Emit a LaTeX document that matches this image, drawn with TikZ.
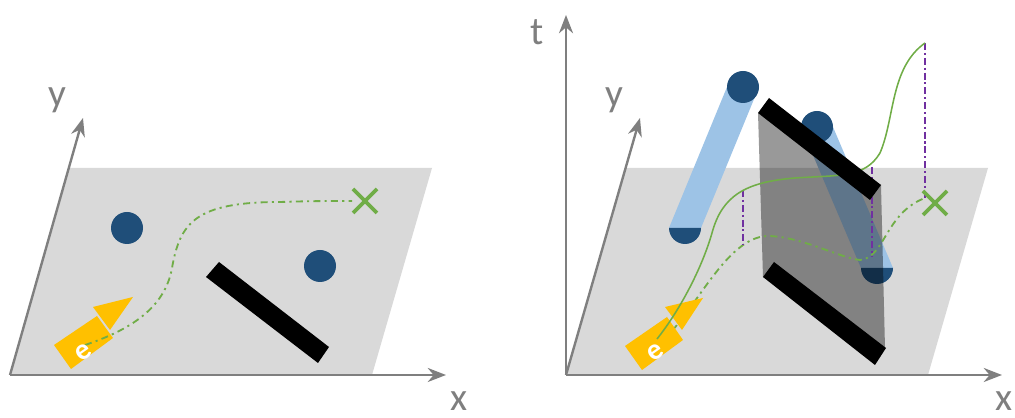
\documentclass[tikz,border=0pt]{standalone}
\usepackage{fontspec}
\setmainfont{Carlito}
\usetikzlibrary{arrows.meta}
\definecolor{planegray}{HTML}{D9D9D9}
\definecolor{axisgray}{HTML}{7F7F7F}
\definecolor{pathgreen}{HTML}{70AD47}
\definecolor{agentorange}{HTML}{FFC000}
\definecolor{obstblue}{HTML}{1F4E79}
\definecolor{trackblue}{HTML}{9DC3E6}
\definecolor{dropviolet}{HTML}{7030A0}
\tikzset{
  axisline/.style={draw=axisgray,line width=1.7pt,-{Stealth[length=13pt,width=10pt]}},
  axislabel/.style={text=axisgray,inner sep=0pt,font=\fontsize{28}{30}\selectfont},
  agentlabel/.style={text=white,inner sep=0pt,font=\fontsize{21}{22}\selectfont\bfseries},
  plannedpath/.style={draw=pathgreen,line width=1.3pt,dash pattern=on 5pt off 3pt on 1.5pt off 3pt},
  timedpath/.style={draw=pathgreen,line width=1.1pt},
  dropline/.style={draw=dropviolet,line width=1.2pt,dash pattern=on 5pt off 2pt on 1.5pt off 2pt},
  goalmark/.style={draw=pathgreen,line width=2.6pt},
}
\begin{document}
\begin{tikzpicture}[x=0.025cm,y=0.025cm]
  \useasboundingbox (0,0) rectangle (1015,418);
  % left panel
  \fill[planegray] (10,43) -- (70,250) -- (432,250) -- (372,43) -- cycle;
  \coordinate (oL) at (10,43);
  \coordinate (xL) at (446,43);
  \coordinate (yL) at (83,300);
  \draw[axisline] (oL) -- (xL);
  \draw[axisline] (oL) -- (yL);
  \node[axislabel] (ylabelL) at (57,318) {y};
  \node[axislabel] (xlabelL) at (459,17) {x};
  \fill[obstblue] (127,190) circle (16);
  \fill[obstblue] (320,152) circle (16);
  \fill[black] (219,156) -- (329,71) -- (318,55) -- (206,141) -- cycle;
  \fill[agentorange] (54,73) -- (97,102) -- (113,80) -- (71,49) -- cycle;
  \fill[agentorange] (93,111) -- (133,121) -- (110,88) -- cycle;
  \draw[plannedpath] (85,73) .. controls (130,88) and (165,110) .. (172,150)
    .. controls (180,195) and (195,216) .. (280,216) .. controls (310,217) and (330,217) .. (352,217);
  \node[agentlabel,rotate=35] (agentL) at (83,66) {e};
  \draw[goalmark] (353,205) -- (377,229) (353,229) -- (377,205);
  % right panel
  \fill[planegray] (566,43) -- (626,250) -- (988,250) -- (928,43) -- cycle;
  \coordinate (oR) at (566,43);
  \coordinate (xR) at (1002,43);
  \coordinate (yR) at (640,300);
  \coordinate (tR) at (566,403);
  \draw[axisline] (oR) -- (xR);
  \draw[axisline] (oR) -- (yR);
  \draw[axisline] (oR) -- (tR);
  \node[axislabel] (ylabelR) at (614,318) {y};
  \node[axislabel] (xlabelR) at (1004,17) {x};
  \node[axislabel] (tlabelR) at (537,386) {t};
  % moving obstacles
  \fill[trackblue] (669,190) -- (701,190) -- (759,331) -- (727,331) -- cycle;
  \fill[obstblue] (743,331) circle (16);
  \fill[obstblue] (669,190) arc[start angle=180,end angle=360,radius=16] -- cycle;
  \fill[trackblue] (861,150) -- (893,150) -- (833,291) -- (801,291) -- cycle;
  \fill[obstblue] (817,291) circle (16);
  \fill[obstblue] (861,150) arc[start angle=180,end angle=360,radius=16] -- cycle;
  \fill[black,opacity=0.4] (758,305) -- (881,233) -- (885,70) -- (763,141) -- cycle;
  \fill[black] (763,141) -- (774,156) -- (886,70) -- (875,53) -- cycle;
  % paths
  \draw[plannedpath] (660,75) .. controls (695,105) and (725,180) .. (767,182)
    .. controls (800,182) and (840,160) .. (860,158) .. controls (885,160) and (885,205) .. (925,220);
  \fill[agentorange] (625,72) -- (667,101) -- (683,78) -- (642,48) -- cycle;
  \fill[agentorange] (665,111) -- (703,120) -- (682,88) -- cycle;
  \node[agentlabel,rotate=35] (agentR) at (655,66) {e};
  \draw[dropline] (743,228) -- (743,173);
  \draw[dropline] (872,251) -- (872,161);
  \draw[dropline] (925,375) -- (925,220);
  \draw[timedpath] (657,79) .. controls (680,108) and (702,150) .. (712,185)
    .. controls (722,222) and (745,236) .. (795,240) .. controls (840,243) and (865,240) .. (880,265)
    .. controls (895,300) and (890,350) .. (925,375);
  \fill[black] (758,305) -- (769,320) -- (881,233) -- (870,218) -- cycle;
  \draw[goalmark] (923,203) -- (947,227) (923,227) -- (947,203);
\end{tikzpicture}
\end{document}
